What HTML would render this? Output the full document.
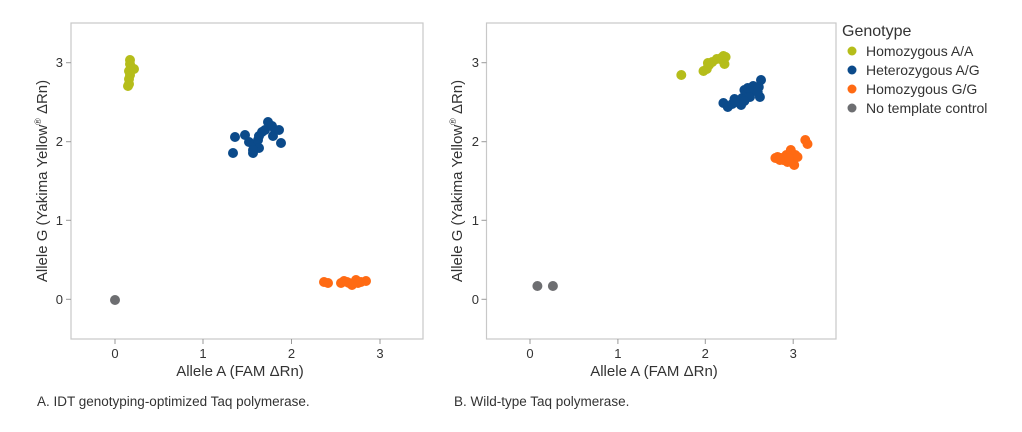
<!DOCTYPE html>
<html><head><meta charset="utf-8"><style>
body{margin:0;background:#fff;}
svg{display:block;font-family:"Liberation Sans",sans-serif;}
</style></head><body>
<svg width="1022" height="432" viewBox="0 0 1022 432">
<g fill="none" stroke="#c8c8c8" stroke-width="1.2">
<rect x="71" y="23" width="352" height="316"/>
<rect x="486.5" y="23" width="349.5" height="316"/>
</g>
<g stroke="#999" stroke-width="1">
<line x1="66" y1="62.7" x2="71" y2="62.7"/><line x1="66" y1="141.7" x2="71" y2="141.7"/><line x1="66" y1="220.3" x2="71" y2="220.3"/><line x1="66" y1="299.3" x2="71" y2="299.3"/>
<line x1="115" y1="339" x2="115" y2="344"/><line x1="203" y1="339" x2="203" y2="344"/><line x1="291.5" y1="339" x2="291.5" y2="344"/><line x1="380" y1="339" x2="380" y2="344"/>
<line x1="481.5" y1="62.7" x2="486.5" y2="62.7"/><line x1="481.5" y1="141.7" x2="486.5" y2="141.7"/><line x1="481.5" y1="220.3" x2="486.5" y2="220.3"/><line x1="481.5" y1="299.3" x2="486.5" y2="299.3"/>
<line x1="530" y1="339" x2="530" y2="344"/><line x1="617.9" y1="339" x2="617.9" y2="344"/><line x1="705.3" y1="339" x2="705.3" y2="344"/><line x1="793.2" y1="339" x2="793.2" y2="344"/>
</g>
<g font-size="13" fill="#333" text-anchor="end">
<text x="63" y="67">3</text><text x="63" y="146">2</text><text x="63" y="225">1</text><text x="63" y="304">0</text>
<text x="479" y="67">3</text><text x="479" y="146">2</text><text x="479" y="225">1</text><text x="479" y="304">0</text>
</g>
<g font-size="13" fill="#333" text-anchor="middle">
<text x="115" y="358">0</text><text x="203" y="358">1</text><text x="291.5" y="358">2</text><text x="380" y="358">3</text>
<text x="530" y="358">0</text><text x="617.9" y="358">1</text><text x="705.3" y="358">2</text><text x="793.2" y="358">3</text>
</g>
<g font-size="15" fill="#333" text-anchor="middle">
<text x="240" y="376">Allele A (FAM ΔRn)</text>
<text x="654" y="376">Allele A (FAM ΔRn)</text>
<text transform="translate(47,181) rotate(-90)">Allele G (Yakima Yellow<tspan font-size="9" dy="-6">®</tspan><tspan dy="6"> ΔRn)</tspan></text>
<text transform="translate(462,181) rotate(-90)">Allele G (Yakima Yellow<tspan font-size="9" dy="-6">®</tspan><tspan dy="6"> ΔRn)</tspan></text>
</g>
<g font-size="13.5" fill="#333">
<text x="37" y="406">A. IDT genotyping-optimized Taq polymerase.</text>
<text x="454" y="406">B. Wild-type Taq polymerase.</text>
</g>
<g fill="#b5bd1a">
<circle cx="130" cy="60" r="5"/><circle cx="130" cy="64" r="5"/><circle cx="132" cy="69" r="5"/><circle cx="129" cy="71" r="5"/><circle cx="130" cy="75" r="5"/><circle cx="129" cy="79" r="5"/><circle cx="129" cy="84" r="5"/><circle cx="128" cy="86" r="5"/><circle cx="134" cy="69" r="5"/>
<circle cx="681.3" cy="75" r="5"/><circle cx="703.5" cy="71" r="5"/><circle cx="706.8" cy="69" r="5"/><circle cx="709" cy="65" r="5"/><circle cx="712.3" cy="62" r="5"/><circle cx="716.8" cy="59" r="5"/><circle cx="721.2" cy="58" r="5"/><circle cx="725.6" cy="57" r="5"/><circle cx="722.3" cy="60" r="5"/><circle cx="723.4" cy="56" r="5"/><circle cx="724.5" cy="64" r="5"/><circle cx="707.9" cy="63" r="5"/>
</g>
<g fill="#0b4a8a">
<circle cx="233" cy="153" r="5"/><circle cx="235" cy="137" r="5"/><circle cx="245" cy="135" r="5"/><circle cx="249" cy="142" r="5"/><circle cx="253" cy="153" r="5"/><circle cx="254" cy="145" r="5"/><circle cx="258" cy="140" r="5"/><circle cx="259" cy="136" r="5"/><circle cx="259" cy="148" r="5"/><circle cx="262" cy="132" r="5"/><circle cx="265" cy="130" r="5"/><circle cx="268" cy="122" r="5"/><circle cx="272" cy="126" r="5"/><circle cx="275" cy="130" r="5"/><circle cx="273" cy="136" r="5"/><circle cx="279" cy="130" r="5"/><circle cx="281" cy="143" r="5"/><circle cx="253" cy="150" r="5"/>
<circle cx="723.4" cy="103" r="5"/><circle cx="727.8" cy="107" r="5"/><circle cx="732.2" cy="104" r="5"/><circle cx="734.5" cy="99" r="5"/><circle cx="742.2" cy="98" r="5"/><circle cx="744.4" cy="90" r="5"/><circle cx="747.7" cy="88" r="5"/><circle cx="751" cy="91" r="5"/><circle cx="753.2" cy="86" r="5"/><circle cx="750" cy="97" r="5"/><circle cx="754.4" cy="89" r="5"/><circle cx="758.8" cy="87" r="5"/><circle cx="759.9" cy="97" r="5"/><circle cx="761" cy="80" r="5"/><circle cx="744.4" cy="101" r="5"/><circle cx="741.1" cy="105" r="5"/><circle cx="735.6" cy="102" r="5"/><circle cx="757.7" cy="92" r="5"/>
</g>
<g fill="#ff6a13">
<circle cx="324" cy="282" r="5"/><circle cx="328" cy="283" r="5"/><circle cx="341" cy="283" r="5"/><circle cx="344" cy="281" r="5"/><circle cx="349" cy="283" r="5"/><circle cx="352" cy="285" r="5"/><circle cx="356" cy="280" r="5"/><circle cx="358" cy="283" r="5"/><circle cx="361" cy="282" r="5"/><circle cx="366" cy="281" r="5"/><circle cx="347" cy="282" r="5"/>
<circle cx="775.4" cy="158" r="5"/><circle cx="777.6" cy="157" r="5"/><circle cx="780.9" cy="158" r="5"/><circle cx="783.1" cy="160" r="5"/><circle cx="786.4" cy="155" r="5"/><circle cx="787.5" cy="162" r="5"/><circle cx="789.7" cy="160" r="5"/><circle cx="790.8" cy="150" r="5"/><circle cx="791.9" cy="158" r="5"/><circle cx="794.2" cy="165" r="5"/><circle cx="795.3" cy="155" r="5"/><circle cx="797.5" cy="157" r="5"/><circle cx="805.3" cy="140" r="5"/><circle cx="807.5" cy="144" r="5"/><circle cx="788.6" cy="158" r="5"/><circle cx="779.9" cy="160" r="5"/>
</g>
<g fill="#6d6e71">
<circle cx="115" cy="300" r="5"/><circle cx="537.4" cy="286" r="5"/><circle cx="552.9" cy="286" r="5"/>
</g>
<text x="842" y="36" font-size="16" fill="#333">Genotype</text>
<g font-size="14" fill="#333">
<circle cx="852" cy="51" r="4.5" fill="#b5bd1a"/><text x="866" y="56">Homozygous A/A</text>
<circle cx="852" cy="70" r="4.5" fill="#0b4a8a"/><text x="866" y="75">Heterozygous A/G</text>
<circle cx="852" cy="89" r="4.5" fill="#ff6a13"/><text x="866" y="94">Homozygous G/G</text>
<circle cx="852" cy="108" r="4.5" fill="#6d6e71"/><text x="866" y="113">No template control</text>
</g>
</svg>
</body></html>
